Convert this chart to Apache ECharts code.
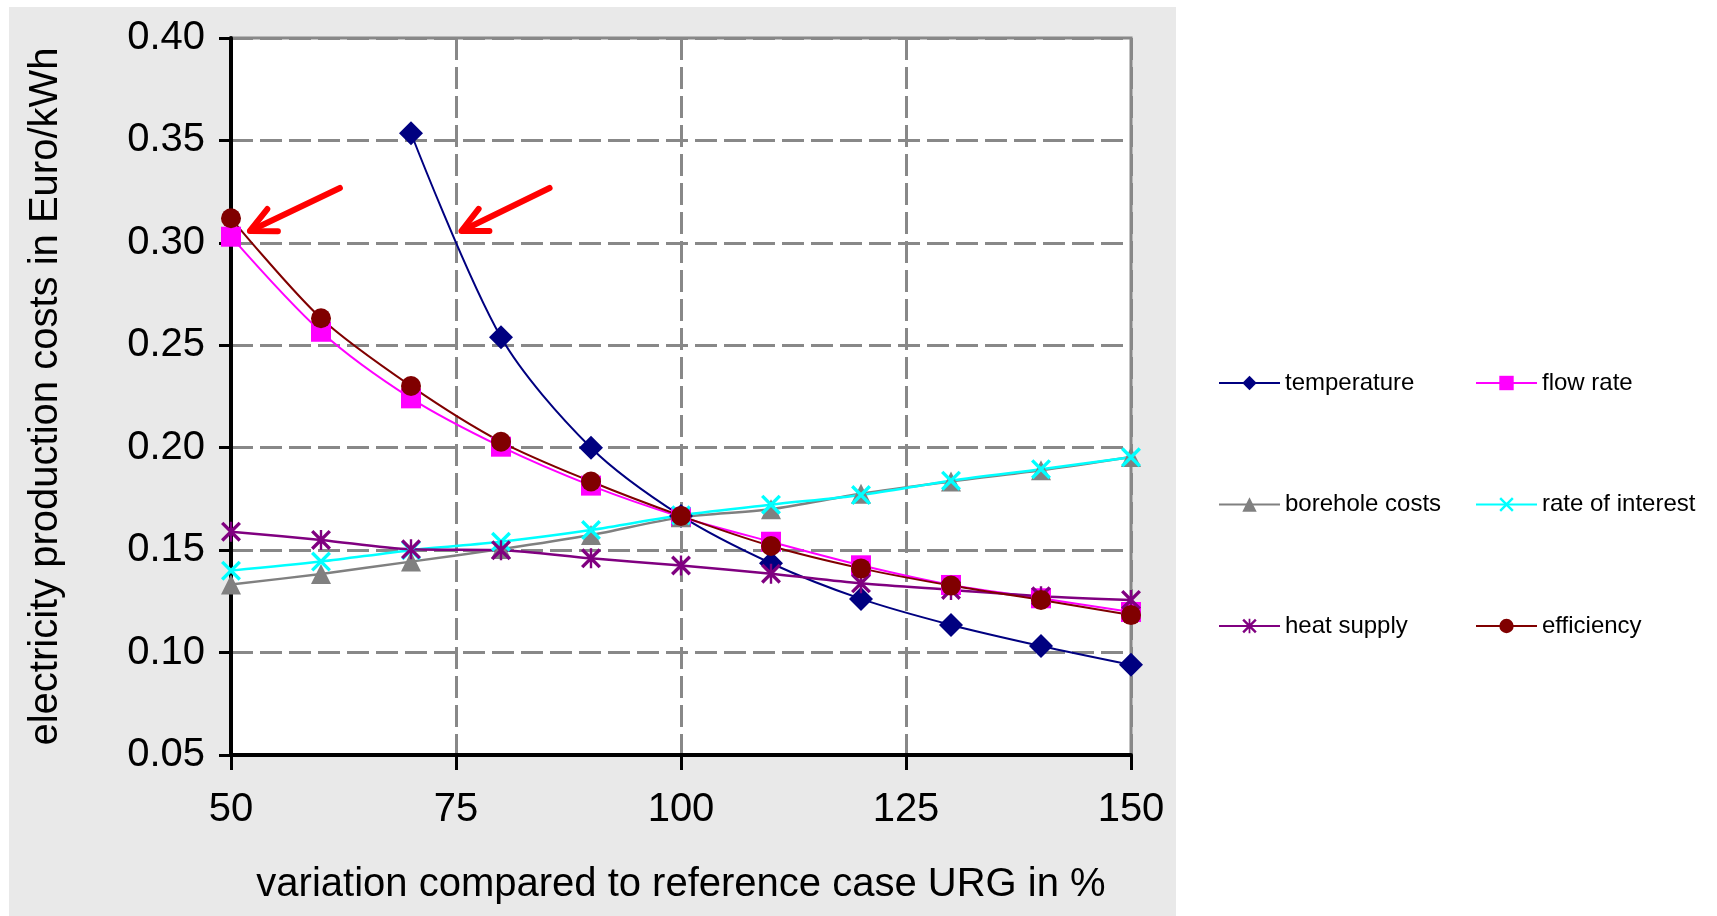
<!DOCTYPE html>
<html>
<head>
<meta charset="utf-8">
<script src="https://cdn.jsdelivr.net/npm/echarts@6/dist/echarts.min.js"></script>
<style>
html,body{margin:0;padding:0;background:#fff;}
#chart{width:1717px;height:916px;}
</style>
</head>
<body>
<div id="chart"></div>
<script>
// ---- data ----
const xValues = [50, 60, 70, 80, 90, 100, 110, 120, 130, 140, 150];
const temperature   = [null, null, 0.3535, 0.2539, 0.2000, 0.1667, 0.1436, 0.1262, 0.1135, 0.1032, 0.0940];
const flowRate      = [0.3030, 0.2566, 0.2241, 0.2005, 0.1815, 0.1662, 0.1541, 0.1426, 0.1330, 0.1265, 0.1198];
const boreholeCosts = [0.1332, 0.1384, 0.1444, 0.1505, 0.1574, 0.1660, 0.1700, 0.1775, 0.1835, 0.1890, 0.1955];
const rateOfInterest= [0.1400, 0.1444, 0.1500, 0.1541, 0.1598, 0.1670, 0.1722, 0.1769, 0.1839, 0.1895, 0.1953];
const heatSupply    = [0.1590, 0.1550, 0.1504, 0.1500, 0.1460, 0.1425, 0.1385, 0.1338, 0.1306, 0.1275, 0.1257];
const efficiency    = [0.3120, 0.2632, 0.2301, 0.2029, 0.1835, 0.1667, 0.1520, 0.1411, 0.1327, 0.1257, 0.1183];
const seriesNames = ['temperature', 'flow rate', 'borehole costs', 'rate of interest', 'heat supply', 'efficiency'];
const yTicks = [0.05, 0.10, 0.15, 0.20, 0.25, 0.30, 0.35, 0.40];
const xTicks = [50, 75, 100, 125, 150];
// annotation arrows: [xTail, yTail, xTip, yTip] in data units
const arrows = [
  [62.1, 0.3268, 52.1, 0.3058],
  [85.4, 0.3268, 75.6, 0.3058]
];

const FONT = 'Liberation Sans, Arial, Helvetica, sans-serif';
const pairs = arr => xValues.map((x, i) => [x, arr[i]]).filter(p => p[1] !== null);

const crossPath = 'path://M0,1.2 L1.2,0 L10,8.8 L8.8,10 Z M8.8,0 L10,1.2 L1.2,10 L0,8.8 Z';
const starPath = 'path://M0,1.2 L1.2,0 L10,8.8 L8.8,10 Z M8.8,0 L10,1.2 L1.2,10 L0,8.8 Z M4.4,0 L5.6,0 L5.6,10 L4.4,10 Z';

function lineSeries(name, data, color, symbol, size, width) {
  return {
    name: name,
    type: 'line',
    data: pairs(data),
    smooth: 0.3,
    symbol: symbol,
    symbolSize: size,
    showSymbol: true,
    lineStyle: { color: color, width: width },
    itemStyle: { color: color },
    emphasis: { disabled: true },
    animation: false
  };
}

const chart = echarts.init(document.getElementById('chart'), null, { renderer: 'canvas' });

const legendCommon = {
  orient: 'vertical',
  top: 366,
  itemWidth: 61, itemHeight: 18, itemGap: 97.5,
  textStyle: { fontFamily: FONT, fontSize: 24, color: '#000' },
  selectedMode: false
};

const option = {
  backgroundColor: '#ffffff',
  animation: false,
  graphic: [{
    type: 'rect',
    left: 9, top: 7,
    shape: { width: 1167, height: 909 },
    style: { fill: '#e9e9e9' },
    z: -10, silent: true
  }],
  grid: {
    left: 231, right: 586, top: 38, bottom: 161,
    show: true,
    backgroundColor: '#ffffff',
    borderColor: '#888888',
    borderWidth: 3
  },
  xAxis: {
    type: 'value',
    min: 50, max: 150, interval: 25,
    name: 'variation compared to reference case URG in %',
    nameLocation: 'middle',
    nameGap: 110,
    nameTextStyle: { fontFamily: FONT, fontSize: 40, color: '#000' },
    axisLine: { show: true, onZero: false, lineStyle: { color: '#000', width: 4 } },
    axisTick: { show: true, inside: false, length: 15, lineStyle: { color: '#000', width: 3 } },
    axisLabel: {
      fontFamily: FONT, fontSize: 40, color: '#000', margin: 35,
      formatter: v => xTicks.includes(v) ? String(v) : ''
    },
    splitLine: { show: true, lineStyle: { color: '#888888', width: 3, type: [22, 7] } }
  },
  yAxis: {
    type: 'value',
    min: 0.05, max: 0.40, interval: 0.05,
    name: 'electricity production costs in Euro/kWh',
    nameLocation: 'middle',
    nameGap: 165,
    nameRotate: 90,
    nameTextStyle: { fontFamily: FONT, fontSize: 40, color: '#000' },
    axisLine: { show: true, onZero: false, lineStyle: { color: '#000', width: 4 } },
    axisTick: { show: true, inside: false, length: 12, lineStyle: { color: '#000', width: 3 } },
    axisLabel: {
      fontFamily: FONT, fontSize: 40, color: '#000', margin: 26,
      formatter: v => {
        const t = yTicks.find(k => Math.abs(k - v) < 1e-9);
        return t !== undefined ? t.toFixed(2) : '';
      }
    },
    splitLine: { show: true, lineStyle: { color: '#888888', width: 3, type: [22, 7] } }
  },
  legend: [
    Object.assign({ data: ['temperature', 'borehole costs', 'heat supply'], left: 1213 }, legendCommon),
    Object.assign({ data: ['flow rate', 'rate of interest', 'efficiency'], left: 1470 }, legendCommon)
  ],
  series: [
    lineSeries(seriesNames[0], temperature, '#000080', 'diamond', 24, 2),
    lineSeries(seriesNames[1], flowRate, '#ff00ff', 'rect', 20, 2),
    lineSeries(seriesNames[2], boreholeCosts, '#808080', 'triangle', 20, 2.5),
    lineSeries(seriesNames[3], rateOfInterest, '#00ffff', crossPath, 20, 2.5),
    lineSeries(seriesNames[4], heatSupply, '#800080', starPath, 20, 2.5),
    lineSeries(seriesNames[5], efficiency, '#800000', 'circle', 20, 2),
    {
      type: 'custom',
      name: 'arrows',
      silent: true,
      z: 10,
      animation: false,
      data: arrows,
      encode: { x: [0, 2], y: [1, 3] },
      renderItem: function (params, api) {
        const p1 = api.coord([api.value(0), api.value(1)]);
        const p2 = api.coord([api.value(2), api.value(3)]);
        const dx = p2[0] - p1[0], dy = p2[1] - p1[1];
        const len = Math.hypot(dx, dy);
        const ux = dx / len, uy = dy / len;
        const bx = -ux, by = -uy;
        const hl = 28, a = 26 * Math.PI / 180;
        const ca = Math.cos(a), sa = Math.sin(a);
        const w1 = [p2[0] + hl * (bx * ca - by * sa), p2[1] + hl * (bx * sa + by * ca)];
        const w2 = [p2[0] + hl * (bx * ca + by * sa), p2[1] + hl * (-bx * sa + by * ca)];
        const shaftEnd = [p2[0] - ux * 4, p2[1] - uy * 4];
        return {
          type: 'group',
          children: [
            { type: 'polyline', shape: { points: [p1, shaftEnd] },
              style: { stroke: '#ff0000', lineWidth: 6, lineCap: 'round', fill: null } },
            { type: 'polyline', shape: { points: [w1, p2, w2] },
              style: { stroke: '#ff0000', lineWidth: 6, lineCap: 'round', lineJoin: 'round', fill: null } }
          ]
        };
      }
    }
  ]
};
chart.setOption(option);
</script>
</body>
</html>
